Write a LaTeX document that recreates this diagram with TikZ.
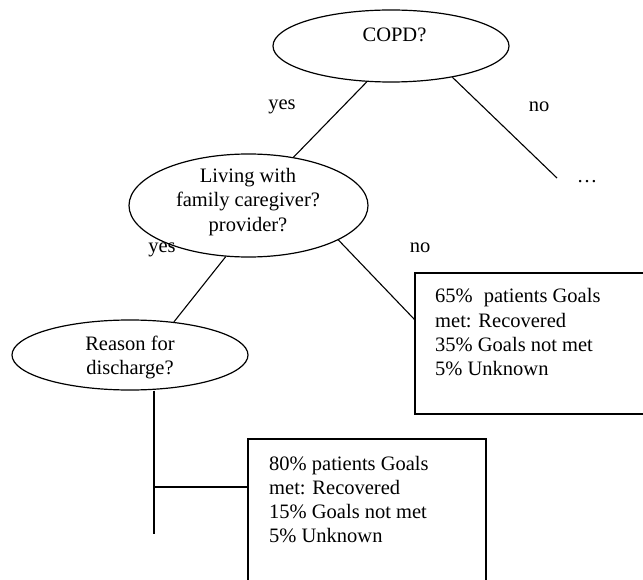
\documentclass[tikz,border=0pt]{standalone}
\usepackage{fontspec}
\setmainfont{Liberation Serif}
\usetikzlibrary{shapes.geometric}
\begin{document}
\begin{tikzpicture}[x=1pt,y=-1pt,
  oval/.style={draw,ellipse,line width=1.2pt,inner sep=0pt},
  rbox/.style={draw,rectangle,line width=1.2pt,inner sep=0pt},
  conn/.style={line width=1.1pt},
  txt/.style={inner sep=0pt,font=\fontsize{20.5}{24}\selectfont}
]
\useasboundingbox (0,0) rectangle (643,580);
\clip (0,0) rectangle (643,580);

% shapes
\node[oval,minimum width=236pt,minimum height=72pt] (copd) at (391,46) {};
\node[oval,minimum width=239pt,minimum height=103pt] (living) at (248.5,205.5) {};
\node[oval,minimum width=236pt,minimum height=70pt] (reason) at (130,355) {};
\node[rbox,minimum width=245pt,minimum height=141pt] (box1) at (537.5,343.5) {};
\node[rbox,minimum width=238pt,minimum height=161pt] (box2) at (367,519.5) {};

% texts
\node[txt,anchor=base] (tcopd) at (394.5,41.5) {COPD?};
\node[txt,anchor=base] (tliv1) at (248,183) {Living with};
\node[txt,anchor=base] (tliv2) at (248,207) {family caregiver?};
\node[txt,anchor=base] (tliv3) at (248,231.5) {provider?};
\node[txt,anchor=base] (trea1) at (130,350) {Reason for};
\node[txt,anchor=base] (trea2) at (130,374) {discharge?};

\node[txt,anchor=base west] (b1l1) at (435,303) {65\%\hspace{11pt}patients Goals};
\node[txt,anchor=base west] (b1l2) at (435,327) {met: Recovered};
\node[txt,anchor=base west] (b1l3) at (435,351) {35\% Goals not met};
\node[txt,anchor=base west] (b1l4) at (435,375) {5\% Unknown};

\node[txt,anchor=base west] (b2l1) at (269,470) {80\% patients Goals};
\node[txt,anchor=base west] (b2l2) at (269,494) {met: Recovered};
\node[txt,anchor=base west] (b2l3) at (269,518) {15\% Goals not met};
\node[txt,anchor=base west] (b2l4) at (269,542) {5\% Unknown};

% labels
\node[txt,anchor=base] (yes1) at (282,110) {yes};
\node[txt,anchor=base] (no1) at (539,112) {no};
\node[txt,anchor=base] (dots) at (587,183) {…};
\node[txt,anchor=base] (yes2) at (162,253) {yes};
\node[txt,anchor=base] (no2) at (420,253) {no};

% connectors
\coordinate (noend) at (557,178);
\coordinate (vend) at (154,534);
\coordinate (branch) at (154,487);

\draw[conn] (copd.236) -- (living.47);
\draw[conn] (copd.333) -- (noend);
\draw[conn] (living.246) -- (reason.37);
\draw[conn] (living.339) -- ([yshift=-47pt]box1.north west);
\draw[conn] (vend |- reason.south) -- (vend);
\draw[conn] (branch) -- (branch -| box2.west);
\end{tikzpicture}
\end{document}
